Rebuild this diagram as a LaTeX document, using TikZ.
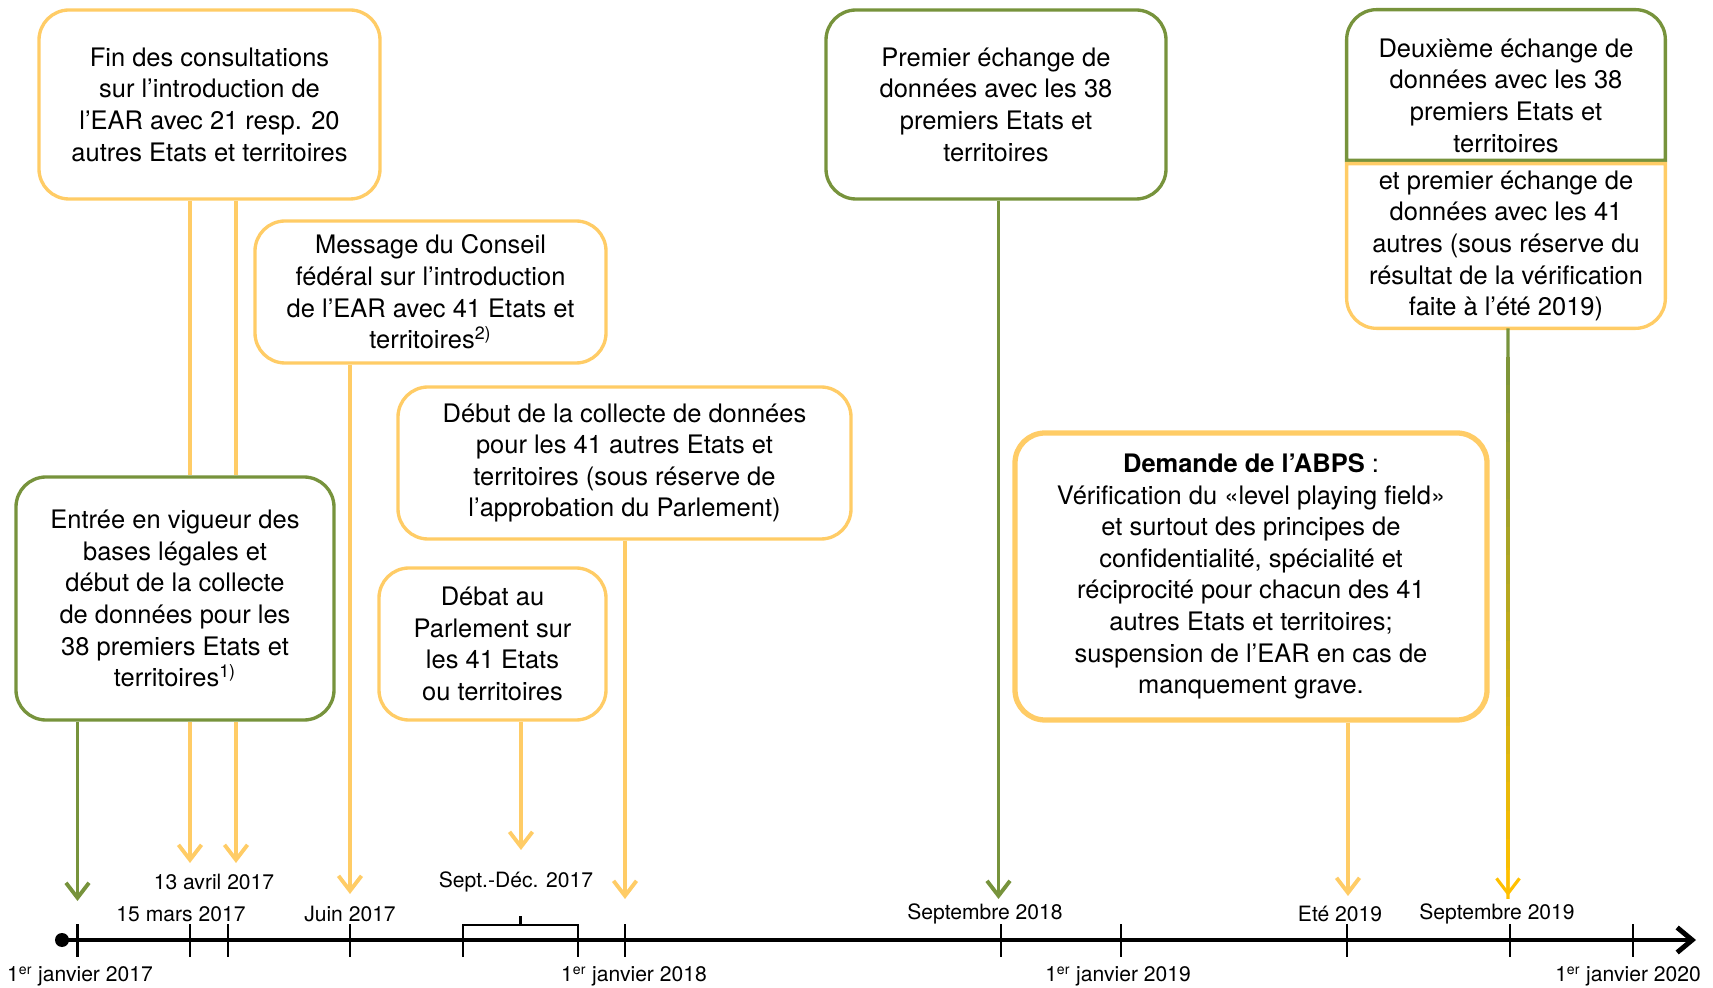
\documentclass[tikz,border=0pt]{standalone}
\usepackage{fontspec}
\setmainfont{TeX Gyre Heros}
\usetikzlibrary{arrows.meta,calc}

\definecolor{earyellow}{HTML}{FFCC66}
\definecolor{eargreen}{HTML}{77933C}
\definecolor{eargold}{HTML}{FFC000}

\begin{document}
\begin{tikzpicture}[
    box/.style={draw, rounded corners=0.6cm, line width=1.9pt, fill=white, align=center,
        inner sep=0pt, font=\fontsize{14.5}{18}\selectfont},
    yellowbox/.style={box, draw=earyellow},
    greenbox/.style={box, draw=eargreen},
    link/.style={line width=2.2pt},
    barb/.style={-{Straight Barb[length=0.3cm,width=0.46cm]}},
    date/.style={font=\fontsize{12}{14}\selectfont}
]
    \useasboundingbox (0,0) rectangle (34.26,19.74);

    % Draw the boxes
    \node[yellowbox, minimum width=6.82cm, minimum height=3.78cm] (fin) at (4.19,17.65)
        {Fin des consultations\\sur l’introduction de\\l’EAR avec 21 resp. 20\\autres Etats et territoires};
    \node[yellowbox, minimum width=7.02cm, minimum height=2.84cm] (message) at (8.61,13.90)
        {Message du Conseil\\fédéral sur l’introduction\\de l’EAR avec 41 Etats et\\territoires\textsuperscript{2)}};
    \node[greenbox, minimum width=6.36cm, minimum height=4.86cm] (entree) at (3.50,7.77)
        {Entrée en vigueur des\\bases légales et\\début de la collecte\\de données pour les\\38 premiers Etats et\\territoires\textsuperscript{1)}};
    \node[yellowbox, minimum width=9.06cm, minimum height=3.04cm] (debut) at (12.49,10.48)
        {Début de la collecte de données\\pour les 41 autres Etats et\\territoires (sous réserve de\\l’approbation du Parlement)};
    \node[yellowbox, minimum width=4.54cm, minimum height=3.04cm] (debat) at (9.85,6.86)
        {Débat au\\Parlement sur\\les 41 Etats\\ou territoires};
    \node[greenbox, minimum width=6.80cm, minimum height=3.78cm] (premier) at (19.92,17.65)
        {Premier échange de\\données avec les 38\\premiers Etats et\\territoires};
    \node[yellowbox, line width=3pt, minimum width=9.44cm, minimum height=5.74cm] (abps) at (25.02,8.21)
        {\textbf{Demande de l’ABPS} :\\Vérification du «level playing field»\\et surtout des principes de\\confidentialité, spécialité et\\réciprocité pour chacun des 41\\autres Etats et territoires;\\suspension de l’EAR en cas de\\manquement grave.};

    % Split box: green top, yellow bottom
    \node[align=center, inner sep=0pt, minimum width=6.36cm, minimum height=3.0cm,
        font=\fontsize{14.5}{18}\selectfont] (deux) at (30.12,18.04)
        {\rule{0pt}{0.8cm}Deuxième échange de\\données avec les 38\\premiers Etats et\\territoires};
    \node[align=center, inner sep=0pt, minimum width=6.36cm, minimum height=3.28cm,
        font=\fontsize{14.5}{18}\selectfont] (deuxb) at (30.12,14.82)
        {et premier échange de\\données avec les 41\\autres (sous réserve du\\résultat de la vérification\\faite à l’été 2019)};
    \draw[eargreen, line width=1.9pt] (deux.south west) -- ([yshift=-0.6cm]deux.north west)
        arc (180:90:0.6cm) -- ([xshift=-0.6cm]deux.north east) arc (90:0:0.6cm)
        -- (deux.south east) -- cycle;
    \draw[earyellow, line width=1.9pt] (deuxb.north west) -- ([yshift=0.6cm]deuxb.south west)
        arc (180:270:0.6cm) -- ([xshift=-0.6cm]deuxb.south east) arc (270:360:0.6cm)
        -- (deuxb.north east) -- cycle;

    % Arrow tips on the time line
    \coordinate (t1) at (1.55,1.72);
    \coordinate (t2) at (3.80,2.48);
    \coordinate (t3) at (4.72,2.48);
    \coordinate (t4) at (7.00,1.86);
    \coordinate (t5) at (10.42,2.74);
    \coordinate (t6) at (12.50,1.76);
    \coordinate (t7) at (19.97,1.76);
    \coordinate (t8) at (26.96,1.82);
    \coordinate (t9) at (30.16,1.82);

    % Draw the connectors
    \draw[link, earyellow] (fin.south -| t2) -- (entree.north -| t2);
    \draw[link, earyellow] (fin.south -| t3) -- (entree.north -| t3);
    \draw[link, earyellow, barb] (entree.south -| t2) -- (t2);
    \draw[link, earyellow, barb] (entree.south -| t3) -- (t3);
    \draw[link, eargreen, barb] (entree.south -| t1) -- (t1);
    \draw[link, earyellow, barb] (message.south -| t4) -- (t4);
    \draw[link, earyellow, barb] (debat.south -| t5) -- (t5);
    \draw[link, earyellow, barb] (debut.south -| t6) -- (t6);
    \draw[link, eargreen, barb] (premier.south -| t7) -- (t7);
    \draw[link, earyellow, barb] (abps.south -| t8) -- (t8);

    % Green to gold connector
    \coordinate (s9) at (deuxb.south -| t9);
    \foreach \i in {0,...,19} {
        \pgfmathsetmacro\pct{100*\i/19}
        \draw[line width=1.8pt, eargold!\pct!eargreen]
            ($(s9)!{\i/20}!(t9)$) -- ($(s9)!{(\i+1.1)/20}!(t9)$);
    }
    \draw[line width=1.8pt, eargold, barb] ($(s9)!0.95!(t9)$) -- (t9);

    % Draw the main line
    \fill (1.24,0.94) circle (0.14);
    \draw[line width=2.8pt, -{Straight Barb[length=0.3cm,width=0.5cm]}] (1.24,0.94) -- (33.92,0.94);

    % Draw the ticks
    \foreach \x in {1.55,3.80,4.56,7.00,12.50,20.02,22.42,26.94,30.20,32.66}
        \draw[line width=1.6pt] (\x,1.26) -- (\x,0.60);

    % Bracket for Sept.-Dec.
    \draw[line width=1.6pt] (9.26,0.60) -- (9.26,1.24) -- (11.56,1.24) -- (11.56,0.60);
    \draw[line width=1.6pt] (10.41,1.24) -- (10.41,1.43);

    % Labels above the line
    \node[date] (mars) at (3.62,1.46) {15 mars 2017};
    \node[date] (avril) at (4.28,2.10) {13 avril 2017};
    \node[date] (juin) at (7.00,1.46) {Juin 2017};
    \node[date] (sept17) at (10.32,2.10) {Sept.-Déc. 2017};
    \node[date] (sept18) at (19.70,1.46) {Septembre 2018};
    \node[date] (ete) at (26.80,1.46) {Eté 2019};
    \node[date] (sept19) at (29.94,1.46) {Septembre 2019};

    % Labels below the line
    \node[date] (jan17) at (1.60,0.21) {1\textsuperscript{er} janvier 2017};
    \node[date] (jan18) at (12.68,0.21) {1\textsuperscript{er} janvier 2018};
    \node[date] (jan19) at (22.36,0.21) {1\textsuperscript{er} janvier 2019};
    \node[date] (jan20) at (32.56,0.21) {1\textsuperscript{er} janvier 2020};
\end{tikzpicture}
\end{document}
